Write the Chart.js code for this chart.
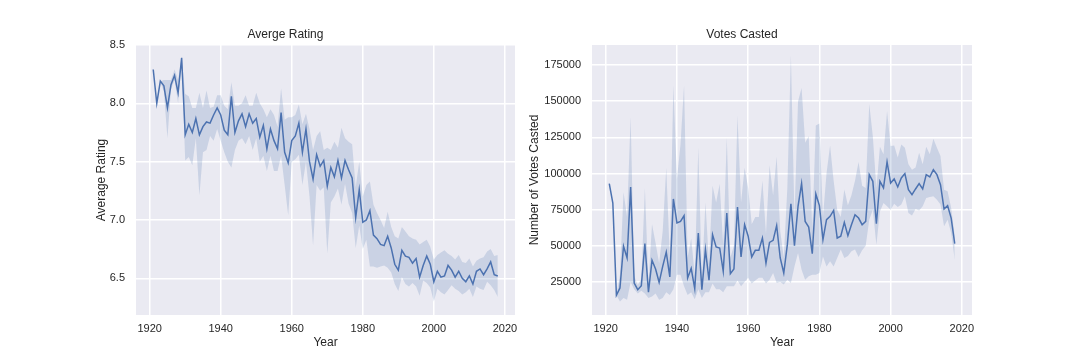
<!DOCTYPE html>
<html>
<head>
<meta charset="utf-8">
<script src="https://cdn.jsdelivr.net/npm/chart.js@4.4.0/dist/chart.umd.min.js"></script>
<style>
  html, body { margin: 0; padding: 0; background: #fff; }
  #wrap { position: relative; width: 1080px; height: 360px; overflow: hidden; }
  canvas { position: absolute; top: 0; }
  #rating { left: 56px; }
  #votes { left: 512px; }
</style>
</head>
<body>
<div id="wrap">
  <canvas id="rating" width="539" height="360"></canvas>
  <canvas id="votes" width="540" height="360"></canvas>
</div>
<script>
const years = [
  1921, 1922, 1923, 1924, 1925, 1926, 1927, 1928, 1929, 1930,
  1931, 1932, 1933, 1934, 1935, 1936, 1937, 1938, 1939, 1940,
  1941, 1942, 1943, 1944, 1945, 1946, 1947, 1948, 1949, 1950,
  1951, 1952, 1953, 1954, 1955, 1956, 1957, 1958, 1959, 1960,
  1961, 1962, 1963, 1964, 1965, 1966, 1967, 1968, 1969, 1970,
  1971, 1972, 1973, 1974, 1975, 1976, 1977, 1978, 1979, 1980,
  1981, 1982, 1983, 1984, 1985, 1986, 1987, 1988, 1989, 1990,
  1991, 1992, 1993, 1994, 1995, 1996, 1997, 1998, 1999, 2000,
  2001, 2002, 2003, 2004, 2005, 2006, 2007, 2008, 2009, 2010,
  2011, 2012, 2013, 2014, 2015, 2016, 2017, 2018
];

// average rating per year, with the confidence band
const ratingMean = [
  8.29, 8.00, 8.19, 8.15, 7.96, 8.16, 8.24, 8.09, 8.39, 7.73,
  7.82, 7.75, 7.87, 7.73, 7.80, 7.84, 7.83, 7.90, 7.96, 7.90,
  7.77, 7.73, 8.06, 7.75, 7.85, 7.91, 7.80, 7.91, 7.83, 7.87,
  7.71, 7.81, 7.61, 7.78, 7.68, 7.61, 7.92, 7.58, 7.49, 7.68,
  7.72, 7.83, 7.58, 7.78, 7.50, 7.35, 7.56, 7.46, 7.51, 7.29,
  7.45, 7.37, 7.51, 7.36, 7.51, 7.43, 7.36, 7.02, 7.26, 6.98,
  7.00, 7.08, 6.87, 6.84, 6.79, 6.78, 6.86, 6.76, 6.62, 6.57,
  6.74, 6.69, 6.68, 6.63, 6.67, 6.51, 6.61, 6.69, 6.62, 6.47,
  6.56, 6.51, 6.52, 6.61, 6.57, 6.51, 6.56, 6.50, 6.47, 6.52,
  6.45, 6.56, 6.58, 6.53, 6.58, 6.64, 6.53, 6.52
];
const ratingLow = [
  8.29, 8.00, 8.19, 8.10, 7.70, 8.12, 8.20, 8.00, 8.39, 7.51,
  7.54, 7.47, 7.70, 7.21, 7.58, 7.60, 7.72, 7.68, 7.78, 7.68,
  7.58, 7.50, 7.45, 7.60, 7.68, 7.70, 7.65, 7.72, 7.60, 7.70,
  7.50, 7.55, 7.42, 7.55, 7.42, 7.42, 7.55, 7.30, 7.04, 7.50,
  7.52, 7.56, 7.30, 7.50, 7.20, 6.78, 7.30, 7.25, 7.28, 6.71,
  7.15, 7.20, 7.27, 7.13, 7.31, 7.14, 7.06, 6.76, 6.95, 6.75,
  6.83, 6.60, 6.60, 6.59, 6.60, 6.61, 6.59, 6.55, 6.45, 6.39,
  6.51, 6.45, 6.43, 6.46, 6.43, 6.35, 6.48, 6.46, 6.42, 6.30,
  6.41, 6.38, 6.36, 6.40, 6.44, 6.41, 6.39, 6.36, 6.38, 6.41,
  6.34, 6.43, 6.41, 6.40, 6.47, 6.44, 6.40, 6.34
];
const ratingHigh = [
  8.29, 8.00, 8.19, 8.20, 8.20, 8.20, 8.29, 8.20, 8.39, 8.08,
  8.06, 7.96, 7.96, 8.09, 7.96, 8.11, 7.96, 7.97, 8.07, 8.07,
  7.98, 7.95, 8.18, 7.98, 7.98, 8.00, 8.07, 7.98, 7.98, 8.09,
  8.00, 7.95, 7.88, 7.95, 7.90, 7.80, 8.13, 7.86, 7.88, 7.88,
  7.90, 7.99, 7.82, 7.91, 7.78, 7.60, 7.72, 7.76, 7.60, 7.62,
  7.60, 7.67, 7.62, 7.79, 7.70, 7.67, 7.65, 7.28, 7.50, 7.20,
  7.30, 7.33, 7.13, 7.06, 7.00, 6.93, 7.07, 6.94, 6.86, 6.84,
  6.94, 6.90, 6.86, 6.84, 6.83, 6.79, 6.81, 6.83, 6.77, 6.66,
  6.70, 6.72, 6.74, 6.71, 6.69, 6.66, 6.70, 6.64, 6.63, 6.67,
  6.60, 6.65, 6.67, 6.68, 6.73, 6.75, 6.69, 6.70
];

// votes casted per year, with the confidence band
const votesMean = [
  93000, 79600, 15800, 20900, 49700, 41600, 90700, 24300, 19700, 22500,
  51500, 17900, 40000, 34000, 24800, 35800, 45700, 28500, 82400, 65800,
  66900, 70900, 27800, 34400, 20400, 58900, 19700, 47400, 26200, 57700,
  49200, 48500, 32400, 72700, 30800, 34000, 76800, 42300, 64600, 56600,
  42300, 46900, 46900, 55400, 38100, 52400, 53800, 64000, 41600, 31200,
  50800, 79100, 50100, 77300, 93000, 66900, 63000, 44600, 85800, 77800,
  54300, 68100, 70400, 74500, 55400, 56600, 66200, 57000, 64600, 71500,
  69200, 64600, 66900, 99200, 94600, 65300, 94600, 90000, 108000, 93400,
  96200, 90700, 96900, 99900, 88800, 85400, 89300, 93000, 89300, 99200,
  97600, 102600, 99200, 92300, 75500, 77800, 69200, 51500
];
const votesLow = [
  93000, 79600, 15800, 11600, 14000, 12800, 25000, 20000, 17000, 19000,
  17000, 14000, 15000, 17000, 12800, 14000, 18000, 16000, 20000, 30000,
  30000, 22000, 16000, 18000, 13000, 20000, 14000, 18000, 18000, 24000,
  20000, 20000, 18000, 22000, 22000, 22000, 26000, 22000, 25000, 28000,
  24000, 26000, 28000, 28000, 24000, 26600, 31200, 24300, 25000, 23200,
  26600, 24300, 35800, 45000, 33500, 26600, 28900, 30000, 30000, 31200,
  42700, 35800, 39300, 35800, 41600, 47400, 41600, 43000, 46200, 47400,
  42300, 46900, 50100, 68100, 75000, 50800, 73800, 79600, 77300, 75000,
  79100, 76800, 78500, 84200, 72700, 70900, 75500, 74500, 77300, 83100,
  83800, 84200, 81900, 78500, 63500, 68100, 58900, 40400
];
const votesHigh = [
  93000, 79600, 15800, 30000, 87000, 70000, 139000, 29000, 23000, 27000,
  90000, 24000, 65000, 52000, 38000, 60000, 104000, 42000, 161000, 96000,
  120000, 161000, 42000, 55000, 30000, 118000, 27000, 80000, 38000, 91500,
  80000, 92700, 50000, 124700, 42000, 50000, 140000, 80000, 104000, 90000,
  65000, 70000, 70000, 95000, 58000, 105700, 85000, 111700, 60000, 42000,
  90000, 181900, 70000, 149800, 159000, 121300, 125800, 62000, 133200, 134500,
  70000, 100000, 119400, 95000, 75000, 70000, 89000, 78000, 85000, 95000,
  108000, 91500, 90000, 148000, 125800, 90000, 118500, 113300, 143000, 119000,
  119400, 111000, 120100, 117800, 106400, 102500, 104100, 114400, 106400, 118500,
  113300, 124000, 117800, 112100, 88800, 87700, 76200, 57000
];

const yearTicks = [1920, 1940, 1960, 1980, 2000, 2020];
const ratingTicks = [6.5, 7.0, 7.5, 8.0, 8.5];
const votesTicks = [25000, 50000, 75000, 100000, 125000, 150000, 175000];

const TEXT = '#262626';
const LINE = '#4C72B0';
const BAND = 'rgba(76, 114, 176, 0.2)';

Chart.defaults.font.family = '"Liberation Sans", Arial, sans-serif';
Chart.defaults.color = TEXT;

// seaborn-ish grey panel behind the plot
const panelBg = {
  id: 'panelBg',
  beforeDraw(chart) {
    const { ctx, chartArea: a } = chart;
    ctx.save();
    ctx.fillStyle = '#EAEAF2';
    ctx.fillRect(a.left, a.top, a.right - a.left, a.bottom - a.top);
    ctx.restore();
  }
};

const pts = (vals) => vals.map((v, i) => ({ x: years[i], y: v }));

function panel(id, o) {
  new Chart(document.getElementById(id), {
    type: 'line',
    data: {
      datasets: [
        { data: pts(o.mean), borderColor: LINE, borderWidth: 1.5, pointRadius: 0, fill: false, tension: 0 },
        { data: pts(o.high), borderWidth: 0, borderColor: 'rgba(0,0,0,0)', backgroundColor: BAND, pointRadius: 0, fill: 2, tension: 0 },
        { data: pts(o.low), borderWidth: 0, borderColor: 'rgba(0,0,0,0)', pointRadius: 0, fill: false, tension: 0 }
      ]
    },
    options: {
      responsive: false,
      animation: false,
      devicePixelRatio: 1,
      events: [],
      layout: { padding: { left: 0, right: 80, top: 0, bottom: 0 } },
      plugins: {
        legend: { display: false },
        tooltip: { enabled: false },
        title: {
          display: true,
          text: o.title,
          color: TEXT,
          font: { size: 12, weight: 'normal' },
          padding: { top: 27, bottom: 3.6 }
        }
      },
      scales: {
        x: {
          type: 'linear',
          min: 1916.15,
          max: 2022.85,
          afterBuildTicks: (s) => { s.ticks = yearTicks.map((v) => ({ value: v })); },
          afterFit: (s) => { s.height = 45; },
          grid: { color: '#ffffff', lineWidth: 1.5, drawTicks: false },
          border: { display: false },
          ticks: { color: TEXT, font: { size: 11 }, padding: 7, autoSkip: false, maxRotation: 0, callback: (v) => String(v) },
          title: { display: true, text: 'Year', color: TEXT, font: { size: 12 }, padding: { top: 0, bottom: 10 } }
        },
        y: {
          type: 'linear',
          min: o.yMin,
          max: o.yMax,
          afterBuildTicks: (s) => { s.ticks = o.ticks.map((v) => ({ value: v })); },
          afterFit: (s) => { s.width = 80; },
          grid: { color: '#ffffff', lineWidth: 1.5, drawTicks: false },
          border: { display: false },
          ticks: { color: TEXT, font: { size: 11 }, padding: 11, autoSkip: false, callback: o.fmt },
          title: { display: true, text: o.yLabel, color: TEXT, font: { size: 12 }, padding: { top: o.titlePad, bottom: 0 } }
        }
      }
    },
    plugins: [panelBg]
  });
}

panel('rating', {
  title: 'Averge Rating',
  yLabel: 'Average Rating',
  mean: ratingMean, low: ratingLow, high: ratingHigh,
  yMin: 6.185, yMax: 8.5,
  ticks: ratingTicks,
  fmt: (v) => v.toFixed(1),
  titlePad: 38
});

panel('votes', {
  title: 'Votes Casted',
  yLabel: 'Number of Votes Casted',
  mean: votesMean, low: votesLow, high: votesHigh,
  yMin: 2200, yMax: 188800,
  ticks: votesTicks,
  fmt: (v) => String(v),
  titlePad: 15.5
});
</script>
</body>
</html>
